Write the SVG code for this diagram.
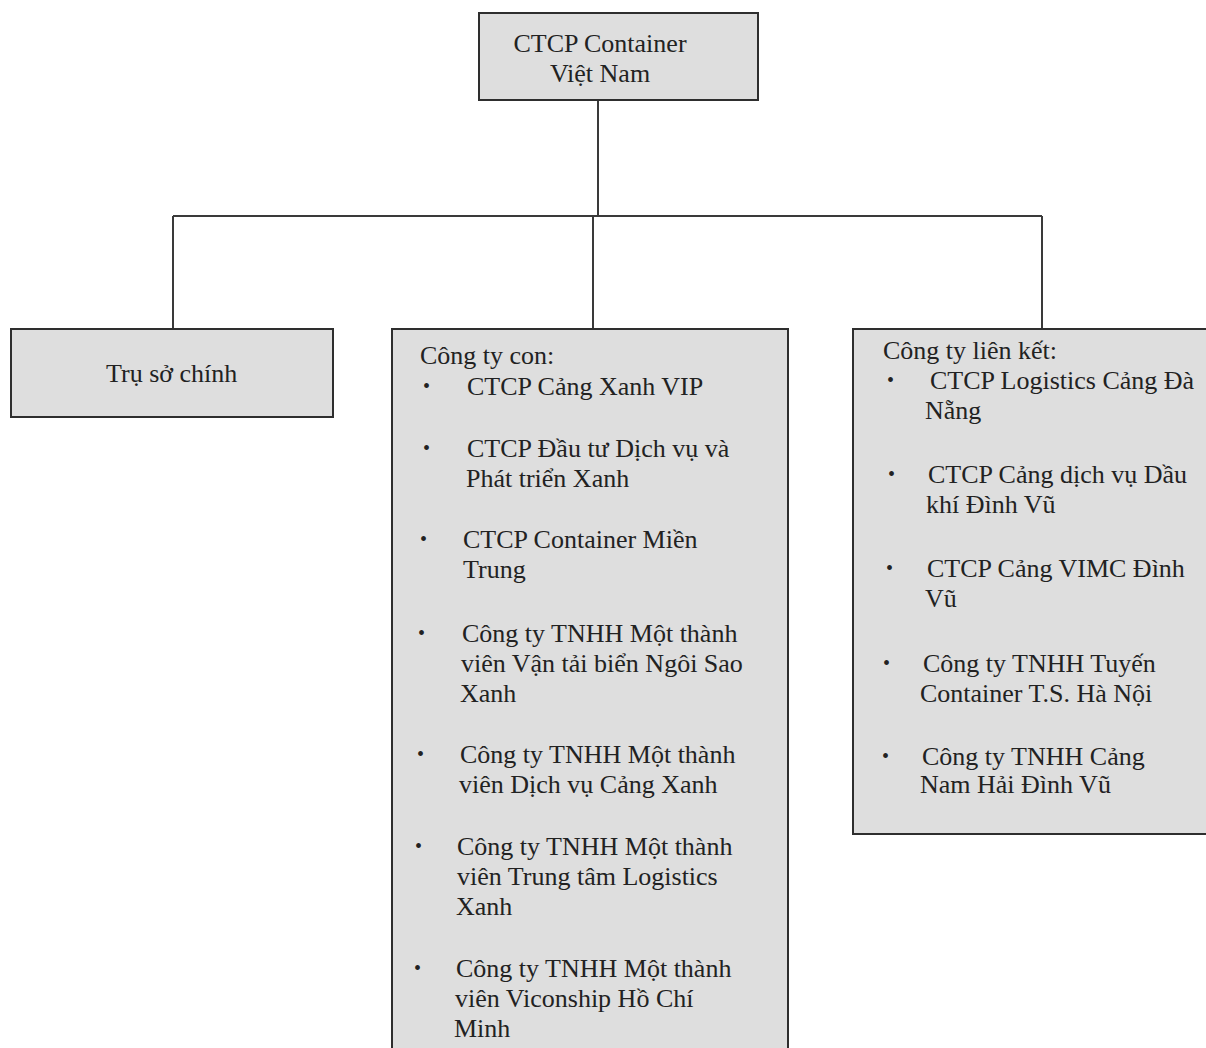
<svg xmlns="http://www.w3.org/2000/svg" width="1206" height="1048" viewBox="0 0 1206 1048">
<style>
.box{fill:#dedede;stroke:#2e2e2e;stroke-width:2}
.t{font-family:"Liberation Serif","Times New Roman",serif;font-size:26px;fill:#222}
.b{font-family:"Liberation Serif","Times New Roman",serif;font-size:20px;fill:#222}
.c{text-anchor:middle}
.ln{stroke:#3a3a3a;stroke-width:2;fill:none}
</style>
<rect width="1206" height="1048" fill="#ffffff"/>
<g id="connectors">
<path class="ln" d="M598 100 V216"/>
<path class="ln" d="M173 216 H1042"/>
<path class="ln" d="M173 216 V329"/>
<path class="ln" d="M593 216 V329"/>
<path class="ln" d="M1042 216 V329"/>
</g>
<g id="root">
<rect class="box" x="479" y="13" width="279" height="87"/>
<text class="t c" x="600" y="52">CTCP Container</text>
<text class="t c" x="600" y="82">Việt Nam</text>
</g>
<g id="tru-so-chinh">
<rect class="box" x="11" y="329" width="322" height="88"/>
<text class="t" x="106" y="382">Trụ sở chính</text>
</g>
<g id="cong-ty-con">
<rect class="box" x="392" y="329" width="396" height="740"/>
<text class="t" x="420" y="364">Công ty con:</text>
<text class="b" x="423" y="393">•</text>
<text class="t" x="467" y="395">CTCP Cảng Xanh VIP</text>
<text class="b" x="423" y="455">•</text>
<text class="t" x="467" y="457">CTCP Đầu tư Dịch vụ và</text>
<text class="t" x="466" y="487">Phát triển Xanh</text>
<text class="b" x="420" y="546">•</text>
<text class="t" x="463" y="548">CTCP Container Miền</text>
<text class="t" x="463" y="578">Trung</text>
<text class="b" x="418" y="640">•</text>
<text class="t" x="462" y="642">Công ty TNHH Một thành</text>
<text class="t" x="461" y="672">viên Vận tải biển Ngôi Sao</text>
<text class="t" x="460" y="702">Xanh</text>
<text class="b" x="417" y="761">•</text>
<text class="t" x="460" y="763">Công ty TNHH Một thành</text>
<text class="t" x="459" y="793">viên Dịch vụ Cảng Xanh</text>
<text class="b" x="415" y="853">•</text>
<text class="t" x="457" y="855">Công ty TNHH Một thành</text>
<text class="t" x="457" y="885">viên Trung tâm Logistics</text>
<text class="t" x="456" y="915">Xanh</text>
<text class="b" x="414" y="975">•</text>
<text class="t" x="456" y="977">Công ty TNHH Một thành</text>
<text class="t" x="455" y="1007">viên Viconship Hồ Chí</text>
<text class="t" x="454" y="1037">Minh</text>
</g>
<g id="cong-ty-lien-ket">
<rect class="box" x="853" y="329" width="370" height="505"/>
<text class="t" x="883" y="359">Công ty liên kết:</text>
<text class="b" x="887" y="387">•</text>
<text class="t" x="930" y="389">CTCP Logistics Cảng Đà</text>
<text class="t" x="925" y="419">Nẵng</text>
<text class="b" x="888" y="481">•</text>
<text class="t" x="928" y="483">CTCP Cảng dịch vụ Dầu</text>
<text class="t" x="926" y="513">khí Đình Vũ</text>
<text class="b" x="886" y="575">•</text>
<text class="t" x="927" y="577">CTCP Cảng VIMC Đình</text>
<text class="t" x="925" y="607">Vũ</text>
<text class="b" x="883" y="670">•</text>
<text class="t" x="923" y="672">Công ty TNHH Tuyến</text>
<text class="t" x="920" y="702">Container T.S. Hà Nội</text>
<text class="b" x="882" y="763">•</text>
<text class="t" x="922" y="765">Công ty TNHH Cảng</text>
<text class="t" x="920" y="793">Nam Hải Đình Vũ</text>
</g>
</svg>
